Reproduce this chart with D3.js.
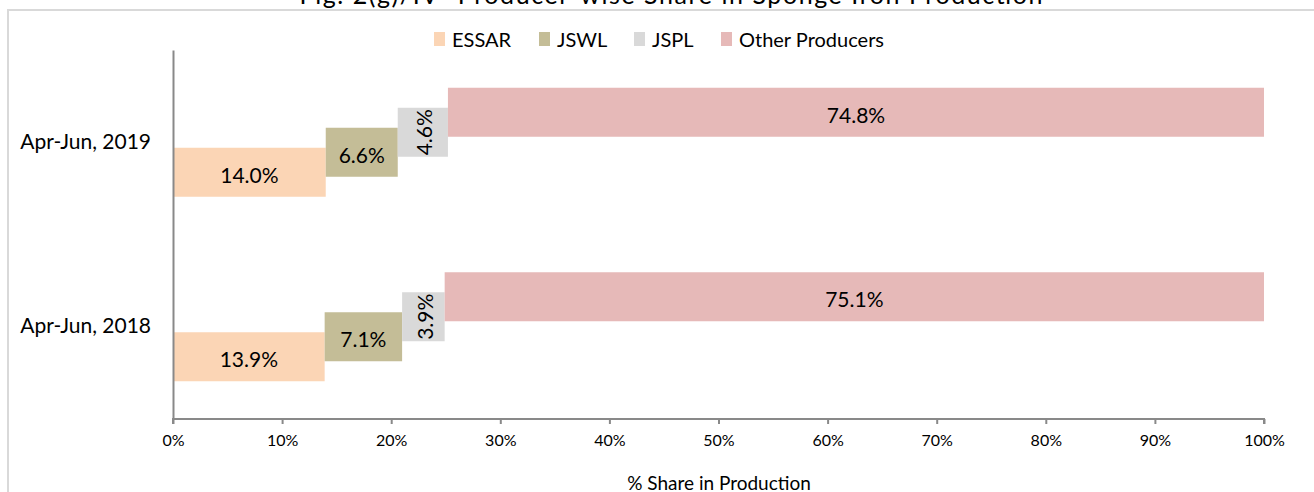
<!DOCTYPE html>
<html>
<head>
  <meta charset="UTF-8">
  <style>
    body { margin: 0; background: #fff; }
    text { font-family: Lato, "Open Sans", sans-serif; fill: #000; }
  </style>
</head>
<body>
<svg></svg>
<script src="https://d3js.org/d3.v7.min.js"></script>
<script>

let width = 1314, height = 492;

// data
const categories = ["Apr-Jun, 2019", "Apr-Jun, 2018"];
const producers = ["ESSAR", "JSWL", "JSPL", "Other Producers"];
const essar = [14.0, 13.9];
const jswl = [6.6, 7.1];
const jspl = [4.6, 3.9];
const others = [74.8, 75.1];
const colors = ["#fbd5b5", "#c4bd97", "#d9d9d9", "#e6b9b8"];
const xTicks = [0, 10, 20, 30, 40, 50, 60, 70, 80, 90, 100];

const values = [essar, jswl, jspl, others];
let rows = categories.map((c, i) => {
    let r = {cat: c};
    producers.forEach((p, j) => r[p] = values[j][i]);
    return r;
});
let stacked = d3.stack().keys(producers)(rows);

let svg = d3.select("svg")
    .attr("width", width)
    .attr("height", height);

// outer chart frame
svg.append("rect")
    .attr("x", 8).attr("y", 10)
    .attr("width", 1320).attr("height", 500)
    .attr("fill", "none")
    .attr("stroke", "#d9d9d9")
    .attr("stroke-width", 2);

// title, mostly cut off at top
svg.append("text")
    .attr("x", 671).attr("y", 3.5)
    .attr("text-anchor", "middle")
    .attr("textLength", 743)
    .style("font-size", "25px")
    .text("Fig. 2(g)/IV- Producer-wise Share in Sponge Iron Production");

let x = d3.scaleLinear().domain([0, 100]).range([173, 1264]);
let y = d3.scaleBand().domain(categories).range([50, 419]);
// each series sits a step higher than the one before
let step = d3.scalePoint().domain(producers).range([30, -30]);
const barH = 49;

let series = svg.append("g").selectAll("g")
    .data(stacked)
    .enter().append("g")
    .attr("fill", (d, i) => colors[i]);

series.selectAll("rect")
    .data(d => d.map(v => ({key: d.key, v: v})))
    .enter().append("rect")
    .attr("x", d => x(d.v[0]))
    .attr("width", d => x(d.v[1]) - x(d.v[0]))
    .attr("y", d => y(d.v.data.cat) + y.bandwidth() / 2 + step(d.key) - barH / 2)
    .attr("height", barH);

series.selectAll("text")
    .data(d => d.map(v => ({key: d.key, v: v})))
    .enter().append("text")
    .attr("text-anchor", "middle")
    .attr("dominant-baseline", "central")
    .style("font-size", "21px")
    .attr("transform", d => {
        let cx = (x(d.v[0]) + x(d.v[1])) / 2;
        let cy = y(d.v.data.cat) + y.bandwidth() / 2 + step(d.key) + 2;
        if (d.key == "JSPL") return "translate(" + (cx + 1) + "," + (cy - 2) + ") rotate(-90)";
        return "translate(" + cx + "," + cy + ")";
    })
    .text(d => (d.v[1] - d.v[0]).toFixed(1) + "%");

// axes
let xAxis = svg.append("g")
    .attr("transform", "translate(0,419)")
    .call(d3.axisBottom(x).tickValues(xTicks).tickSize(5).tickPadding(11).tickFormat(d => d + "%"));
xAxis.selectAll("path, line").attr("stroke", "#898989").attr("stroke-width", 2);
xAxis.select(".domain").attr("d", "M173,5V0H1264V5");
xAxis.selectAll("text").style("font-size", "16px").style("font-family", "Lato, sans-serif").attr("fill", "#000");

let yAxis = svg.append("g")
    .attr("transform", "translate(173,0)")
    .call(d3.axisLeft(y).tickSize(0).tickPadding(22));
yAxis.select(".domain").attr("stroke", "#898989").attr("stroke-width", 2);
yAxis.selectAll("text").style("font-size", "21px").style("font-family", "Lato, sans-serif").attr("fill", "#000");

svg.append("text")
    .attr("x", 719).attr("y", 490)
    .attr("text-anchor", "middle")
    .style("font-size", "19px")
    .text("% Share in Production");

// legend
let legX = [434, 539, 634, 721];
let leg = svg.append("g").selectAll("g")
    .data(producers)
    .enter().append("g")
    .attr("transform", (d, i) => "translate(" + legX[i] + ",32)");
leg.append("rect")
    .attr("width", 11).attr("height", 14)
    .attr("fill", (d, i) => colors[i]);
leg.append("text")
    .attr("x", 18).attr("y", 7)
    .attr("dominant-baseline", "central")
    .style("font-size", "20px")
    .text(d => d);

</script>
</body>
</html>
